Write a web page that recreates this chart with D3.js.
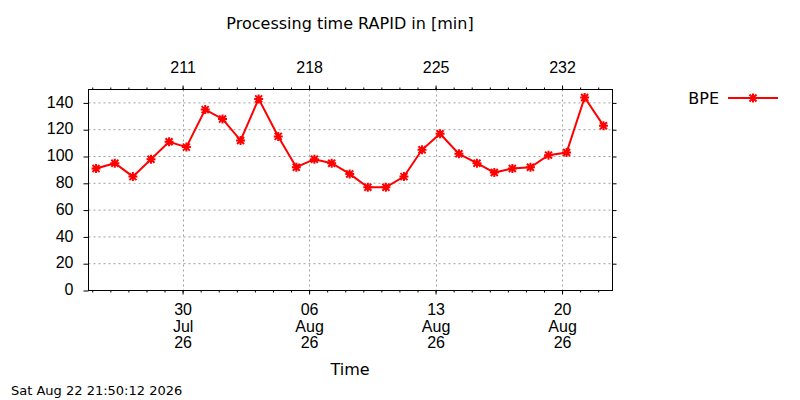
<!DOCTYPE html>
<html>
<head>
<meta charset="utf-8">
<script src="https://cdn.jsdelivr.net/npm/d3@7"></script>
<style>
    body { margin: 0; background: white; }
    svg { display: block; font-family: "DejaVu Sans", sans-serif; }
    .tick text { font-size: 16px; fill: black; }
    .grid line { stroke: #a0a0a0; stroke-dasharray: 2,3; }
</style>
</head>
<body>
<div id="chart"></div>
<script>
    // measurement times (UTC) and processing time in minutes
    var times = [
        "2026-07-25T05:00", "2026-07-26T06:00", "2026-07-27T06:00", "2026-07-28T06:00",
        "2026-07-29T06:00", "2026-07-30T05:00", "2026-07-31T06:00", "2026-08-01T05:00",
        "2026-08-02T05:00", "2026-08-03T05:00", "2026-08-04T07:00", "2026-08-05T07:00",
        "2026-08-06T07:00", "2026-08-07T06:00", "2026-08-08T06:00", "2026-08-09T06:00",
        "2026-08-10T06:00", "2026-08-11T06:00", "2026-08-12T06:00", "2026-08-13T06:00",
        "2026-08-14T07:00", "2026-08-15T07:00", "2026-08-16T06:00", "2026-08-17T06:00",
        "2026-08-18T06:00", "2026-08-19T06:00", "2026-08-20T06:00", "2026-08-21T06:00",
        "2026-08-22T07:00"
    ];
    var bpe = [91, 95, 85, 98, 111, 107, 135, 128, 112, 143, 115, 92, 98, 95, 87,
               77, 77, 85, 105, 117, 102, 95, 88, 91, 92, 101, 103, 144, 123];
    var dateTicks = ["2026-07-30", "2026-08-06", "2026-08-13", "2026-08-20"];
    var yTicks = [0, 20, 40, 60, 80, 100, 120, 140];
    var seriesName = "BPE";
    var title = "Processing time RAPID in [min]";
    var xTitle = "Time";
    var stamp = "Sat Aug 22 21:50:12 2026";

(function () {
    'use strict';

    var parseTime = d3.utcParse("%Y-%m-%dT%H:%M");
    var parseDay = d3.utcParse("%Y-%m-%d");
    var data = times.map(function (t, i) { return { t: parseTime(t), v: bpe[i] }; });
    var majors = dateTicks.map(parseDay);

    var pl = 88.5, pr = 612.5, pt = 89.5, pb = 290.5;

    var svg = d3.select("#chart").append("svg")
        .attr("width", 800)
        .attr("height", 400);

    var x = d3.scaleUtc()
        .domain([parseTime("2026-07-24T19:00"), parseTime("2026-08-22T19:00")])
        .range([pl, pr]);
    var y = d3.scaleLinear()
        .domain([0, 150])
        .range([pb, pt]);

    var minors = d3.utcDay.range(d3.utcDay.ceil(x.domain()[0]), x.domain()[1]);

    // grid
    var grid = svg.append("g").attr("class", "grid");
    grid.selectAll(".gy").data(yTicks.slice(1)).enter().append("line")
        .attr("x1", pl).attr("x2", pr)
        .attr("y1", function (d) { return y(d); })
        .attr("y2", function (d) { return y(d); });
    grid.selectAll(".gx").data(majors).enter().append("line")
        .attr("y1", pt).attr("y2", pb)
        .attr("x1", function (d) { return Math.round(x(d)) + 0.5; })
        .attr("x2", function (d) { return Math.round(x(d)) + 0.5; });

    // minor day ticks, top and bottom
    svg.append("g").attr("transform", "translate(0," + pb + ")")
        .call(d3.axisBottom(x).tickValues(minors).tickSize(2).tickFormat(""))
        .call(function (g) { g.select(".domain").remove(); });
    svg.append("g").attr("transform", "translate(0," + pt + ")")
        .call(d3.axisTop(x).tickValues(minors).tickSize(2).tickFormat(""))
        .call(function (g) { g.select(".domain").remove(); });

    // bottom axis with three line date labels
    var fmtDay = d3.utcFormat("%d"), fmtMon = d3.utcFormat("%b"), fmtYr = d3.utcFormat("%y");
    var xAxis = svg.append("g").attr("transform", "translate(0," + pb + ")")
        .call(d3.axisBottom(x).tickValues(majors).tickSize(4).tickFormat(""));
    xAxis.select(".domain").remove();
    xAxis.selectAll(".tick text").each(function (d) {
        var t = d3.select(this).attr("dy", null).attr("y", null);
        t.append("tspan").attr("x", 0).attr("y", 24.5).text(fmtDay(d));
        t.append("tspan").attr("x", 0).attr("y", 41).text(fmtMon(d));
        t.append("tspan").attr("x", 0).attr("y", 57.5).text(fmtYr(d));
    });

    // top axis: day of year
    var x2Axis = svg.append("g").attr("transform", "translate(0," + pt + ")")
        .call(d3.axisTop(x).tickValues(majors).tickSize(4).tickPadding(13).tickFormat(d3.utcFormat("%j")));
    x2Axis.select(".domain").remove();

    // left and right axes
    var yAxis = svg.append("g").attr("transform", "translate(" + pl + ",0)")
        .call(d3.axisLeft(y).tickValues(yTicks).tickSize(5).tickPadding(10));
    yAxis.select(".domain").remove();
    yAxis.selectAll(".tick text").attr("dy", "0.26em");
    var y2Axis = svg.append("g").attr("transform", "translate(" + pr + ",0)")
        .call(d3.axisRight(y).tickValues(yTicks.slice(1)).tickSize(4).tickFormat(""));
    y2Axis.select(".domain").remove();

    // frame
    svg.append("rect")
        .attr("x", pl).attr("y", pt)
        .attr("width", pr - pl).attr("height", pb - pt)
        .attr("fill", "none").attr("stroke", "black");

    // series
    var line = d3.line()
        .x(function (d) { return x(d.t); })
        .y(function (d) { return y(d.v); });
    svg.append("path").datum(data)
        .attr("d", line)
        .attr("fill", "none")
        .attr("stroke", "#ff0000")
        .attr("stroke-width", 2);

    // gnuplot style asterisk (plus + cross)
    var star = "M-4.5,0H4.5M0,-4.5V4.5M-3.5,-3.5L3.5,3.5M-3.5,3.5L3.5,-3.5";
    svg.append("g").selectAll("path").data(data).enter().append("path")
        .attr("transform", function (d) { return "translate(" + x(d.t) + "," + y(d.v) + ")"; })
        .attr("d", star)
        .attr("stroke", "#ff0000")
        .attr("stroke-width", 2);

    // legend
    var legend = svg.append("g").attr("transform", "translate(0,98)");
    legend.append("text").attr("x", 719).attr("y", 5.5)
        .attr("text-anchor", "end").style("font-size", "16px").text(seriesName);
    legend.append("line").attr("x1", 728).attr("x2", 778)
        .attr("stroke", "#ff0000").attr("stroke-width", 2);
    legend.append("path").attr("transform", "translate(753,0)")
        .attr("d", star).attr("stroke", "#ff0000").attr("stroke-width", 2);

    // titles
    svg.append("text").attr("x", 350).attr("y", 29)
        .attr("text-anchor", "middle").style("font-size", "16px").text(title);
    svg.append("text").attr("x", 350).attr("y", 375)
        .attr("text-anchor", "middle").style("font-size", "16px").text(xTitle);
    svg.append("text").attr("x", 11).attr("y", 395)
        .style("font-size", "13px").text(stamp);
})();
</script>
</body>
</html>
